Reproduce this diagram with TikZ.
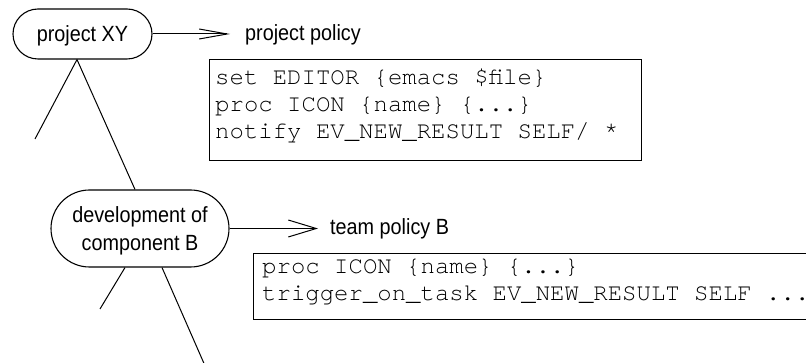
\documentclass[tikz,border=0pt]{standalone}
\usepackage{fontspec}
\setmainfont{Liberation Sans}
\newfontfamily\labelfont[FakeStretch=0.9]{Liberation Sans}
\newfontfamily\codefont{texgyrecursor}[Extension=.otf, UprightFont=*-regular]
\usetikzlibrary{shapes.misc,arrows.meta}
\begin{document}
\begin{tikzpicture}[x=1pt,y=-1pt,
  task/.style={rounded rectangle, draw, line width=1.1pt, inner sep=0pt,
    text depth=0pt, align=center,
    font=\labelfont\fontsize{22}{28}\selectfont},
  policytitle/.style={anchor=base west, inner sep=0pt,
    font=\labelfont\fontsize{22}{25}\selectfont},
  codebox/.style={draw, line width=1.2pt, anchor=north west, inner sep=0pt},
  codeline/.style={anchor=base west, inner sep=0pt,
    font=\codefont\fontsize{24}{27}\selectfont},
  treeedge/.style={line width=1pt},
  policyarrow/.style={line width=1pt, -{Straight Barb[length=28pt,width=10pt]}},
  widearrow/.style={line width=1pt, -{Straight Barb[length=28pt,width=17pt]}},
]
\clip (0,0) rectangle (806,363);
\useasboundingbox (0,0) rectangle (806,363);

% task hierarchy
\node[task, minimum width=139, minimum height=50] (xy) at (82.5,34) {project XY};
\node[task, minimum width=178, minimum height=77] (devB) at (140,228.5)
  {development of\\component B};

\coordinate (leafA) at (35,139);
\coordinate (leafB) at (100,309);
\coordinate (leafC) at (206,368);
\draw[treeedge] ([xshift=-5.5pt]xy.south) -- (leafA);
\draw[treeedge] ([xshift=-5.5pt]xy.south) -- ([xshift=-5pt]devB.north);
\draw[treeedge] ([xshift=-15pt]devB.south) -- (leafB);
\draw[treeedge] ([xshift=22pt]devB.south) -- (leafC);

% project policy
\coordinate (pptip) at (230,34);
\draw[policyarrow] (xy.east) -- (pptip);
\node[policytitle] (pp) at (245,41) {project policy};
\node[codebox, minimum width=432, minimum height=101] (box1) at (208.5,59) {};
\node[codeline] (c11) at (215,85) {set EDITOR \{emacs \$file\}};
\node[codeline] (c12) at (215,112) {proc ICON \{name\} \{...\}};
\node[codeline] (c13) at (215,139) {notify EV\_NEW\_RESULT SELF/ *};

% team policy
\coordinate (tptip) at (318,228.5);
\draw[widearrow] (devB.east) -- (tptip);
\node[policytitle] (tp) at (330,235) {team policy B};
\node[codebox, minimum width=600, minimum height=66] (box2) at (252.5,253) {};
\node[codeline] (c21) at (262,274) {proc ICON \{name\} \{...\}};
\node[codeline] (c22) at (262,301) {trigger\_on\_task EV\_NEW\_RESULT SELF ...};
\end{tikzpicture}
\end{document}
